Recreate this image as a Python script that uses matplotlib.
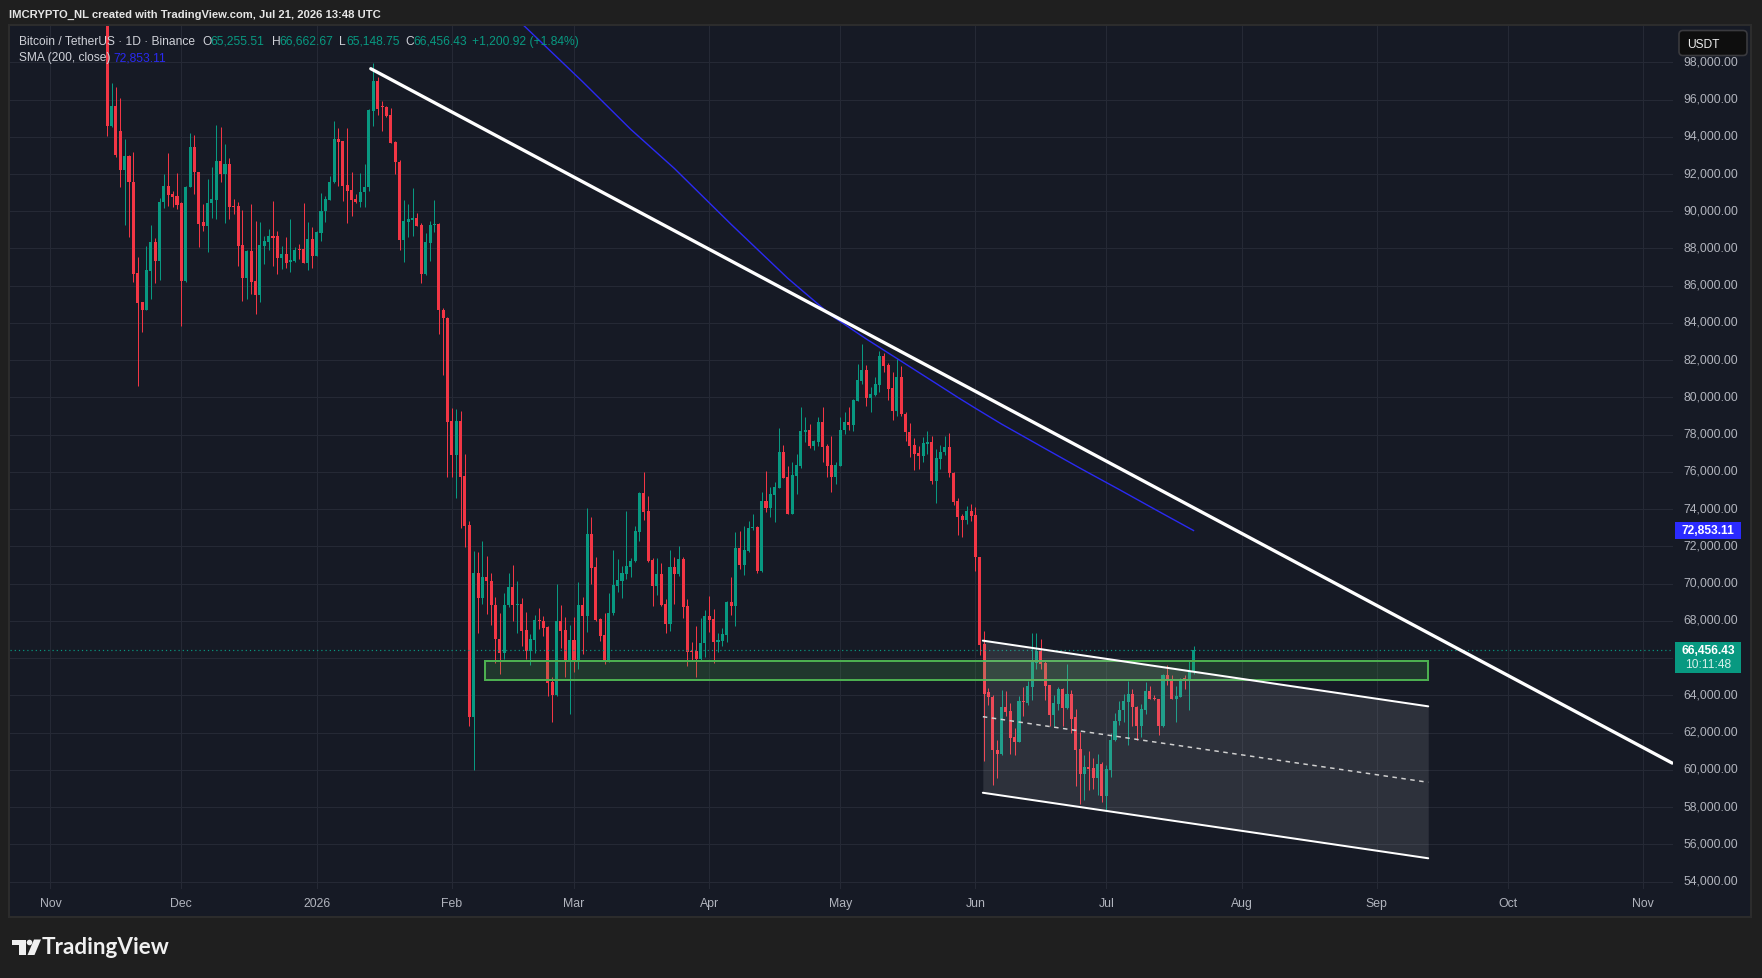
import numpy as np
import pandas as pd
import matplotlib
matplotlib.use("Agg")
import matplotlib.pyplot as plt
import matplotlib.dates as mdates
from matplotlib.patches import Rectangle, FancyBboxPatch, Polygon, Circle
from matplotlib.transforms import ScaledTranslation

# ---------------- data ----------------
start_date = "2025-11-14"
opens = [101200, 94600, 95670, 94310, 92230, 92990, 91550, 86680, 85140, 84720,
         86810, 88370, 87350, 90480, 91370, 90930, 90840, 90430, 86270, 91320,
         93470, 92090, 89400, 89230, 90440, 90620, 92700, 92020, 92540, 90300,
         90300, 88190, 86420, 87880, 86270, 85500, 88150, 88370, 88650, 88650,
         87470, 87700, 87260, 87350, 87970, 87970, 87220, 88510, 87620, 88830,
         90000, 90620, 91550, 93880, 93770, 91410, 91140, 90660, 90520, 91020,
         91290, 95400, 96980, 95680, 95600, 95180, 93730, 92630, 88430, 89430,
         89530, 89630, 89250, 86630, 88300, 89250, 89330, 84680, 84280, 78730,
         76900, 78730, 75770, 73150, 62850, 70570, 69250, 70350, 70150, 68850,
         67050, 66250, 68830, 69830, 68850, 68900, 67530, 66380, 66980, 68050,
         68000, 67650, 64730, 64030, 67980, 67510, 65830, 66970, 65780, 68850,
         68280, 72670, 70900, 68100, 67240, 65860, 68410, 69890, 70160, 70520,
         70900, 71200, 72790, 74870, 73900, 71270, 69890, 70520, 68910, 67830,
         70900, 70520, 71320, 68820, 66400, 66400, 65950, 66810, 68280, 68100,
         66890, 66940, 67240, 69000, 68820, 71920, 71020, 71770, 72970, 73040,
         70700, 74440, 74060, 74780, 75140, 77050, 75710, 73740, 75800, 76300,
         78160, 78270, 77380, 77590, 78680, 77410, 76370, 75750, 76340, 78250,
         78700, 78540, 79830, 80900, 81480, 79970, 80150, 80690, 82250, 81740,
         80490, 79290, 81080, 79110, 78130, 77450, 77020, 76840, 77500, 77590,
         75530, 76700, 77050, 77320, 75930, 74420, 73620, 73440, 73890, 73690,
         71410, 66760, 64180, 63910, 61080, 60850, 63370, 63140, 61760, 61490,
         63690, 63590, 64440, 65730, 66400, 65730, 64570, 62960, 63530, 64360,
         63320, 64070, 62820, 61120, 59790, 60150, 60090, 59560, 60330, 58610,
         60000, 61580, 62600, 63190, 63640, 64070, 63400, 62330, 63230, 64250,
         63850, 63800, 62330, 65110, 64840, 63820, 63930, 64930, 64750, 65255.51]
highs = [102000, 96870, 96650, 96060, 93880, 93020, 93160, 87530, 85150, 88150,
         89260, 88550, 90690, 92000, 93130, 91100, 92050, 90500, 91350, 94200,
         94110, 92100, 90390, 91730, 92360, 94630, 94530, 93610, 92840, 90660,
         90480, 90070, 87900, 90390, 89490, 89410, 88690, 89050, 90570, 88960,
         88150, 88600, 89580, 88060, 88240, 90440, 89410, 89170, 88950, 90980,
         90840, 91880, 94850, 94450, 93800, 94450, 92090, 90930, 92050, 92520,
         95500, 97940, 97200, 95930, 95680, 95550, 93750, 92730, 90600, 90400,
         91250, 89930, 89380, 88850, 89500, 90600, 89380, 84800, 84300, 79430,
         79380, 79250, 76980, 73350, 71750, 71700, 72300, 71480, 70550, 69300,
         68430, 69500, 70550, 71000, 70130, 69230, 68480, 67300, 68330, 68680,
         68280, 67700, 65000, 69980, 68850, 68190, 67780, 68190, 70070, 69270,
         74050, 73600, 71410, 68140, 68420, 69480, 71830, 71320, 70930, 73890,
         71360, 73120, 74940, 75980, 74730, 71380, 71360, 71110, 69180, 71830,
         71410, 72010, 71410, 69180, 66850, 67750, 68160, 68600, 69320, 68640,
         67350, 67600, 69090, 70380, 72790, 72850, 73120, 73380, 73740, 73120,
         74910, 76050, 75170, 75480, 78340, 77450, 76300, 76550, 76960, 79470,
         78930, 78560, 77720, 78930, 79470, 77500, 77910, 76550, 78930, 79200,
         79470, 79900, 81800, 82870, 81740, 80540, 81120, 82510, 82390, 81850,
         81350, 82070, 81670, 79200, 78630, 77810, 77380, 77890, 78180, 77950,
         77230, 77450, 77910, 78070, 75980, 74580, 73740, 74150, 74280, 74100,
         71450, 67480, 64400, 64030, 61620, 64300, 64250, 63590, 62240, 63940,
         64440, 64780, 67340, 67340, 67040, 65820, 64570, 64030, 64430, 64390,
         65680, 64300, 63280, 62030, 60810, 61030, 60630, 60850, 60400, 60270,
         61970, 63050, 63680, 64070, 64780, 64340, 63440, 63530, 64700, 64520,
         64000, 63800, 65140, 65610, 65070, 64480, 64930, 65070, 65820, 66662.67]
lows = [94060, 94550, 92900, 91290, 89280, 88640, 86180, 80630, 83530, 84700,
        85290, 86150, 86290, 90160, 90300, 90210, 90120, 83860, 86180, 91280,
        90930, 88100, 88960, 87790, 89620, 89580, 91590, 89350, 89580, 89850,
        87080, 85200, 85290, 85560, 84480, 85140, 87170, 87940, 87080, 86630,
        86900, 86940, 86720, 87290, 87440, 87220, 86860, 86940, 87600, 88420,
        89410, 90620, 91500, 91370, 90570, 89350, 89760, 90430, 90210, 90210,
        91110, 94600, 95170, 94300, 95050, 93650, 91980, 87930, 87300, 88600,
        88650, 89200, 86130, 86550, 87350, 88880, 83430, 81180, 75750, 75750,
        74600, 72970, 71950, 62380, 60000, 67330, 68930, 68350, 67800, 65750,
        65130, 65930, 68730, 68000, 67350, 66630, 65930, 65630, 66300, 67550,
        67180, 63980, 62550, 63980, 66530, 64970, 63000, 65240, 65420, 66220,
        67420, 69980, 68000, 66940, 65690, 65800, 68300, 69540, 69230, 70250,
        70340, 71150, 72310, 73440, 71150, 68820, 69390, 68820, 67350, 67480,
        68910, 70430, 68170, 65560, 65830, 65010, 65870, 66040, 67390, 65720,
        66310, 66630, 66890, 68330, 67750, 70790, 70480, 71700, 72900, 70560,
        70650, 73830, 73560, 73330, 75120, 75650, 73720, 73720, 74820, 76210,
        77590, 77270, 77200, 77380, 76520, 75710, 74940, 75350, 76300, 78040,
        78250, 78220, 79800, 80720, 79560, 79240, 80100, 80310, 81350, 79860,
        78810, 78990, 78990, 77680, 76790, 76120, 76160, 76550, 76960, 75350,
        74310, 76160, 76930, 75710, 74230, 72610, 72530, 73200, 73380, 70700,
        66170, 60500, 63500, 59200, 59560, 60810, 62900, 60850, 60810, 61490,
        62870, 63500, 63760, 65430, 65430, 63760, 62330, 62330, 63230, 62330,
        63280, 61970, 59110, 58180, 58390, 58930, 58980, 58660, 58250, 57820,
        59610, 61530, 62420, 62570, 61350, 62330, 61620, 61760, 63010, 63820,
        63760, 61880, 62300, 64570, 63820, 62570, 63900, 64360, 63190, 65148.75]
closes = [94600, 95670, 93040, 92230, 92990, 91550, 86630, 85070, 84720, 86860,
          88330, 87350, 90480, 91370, 90870, 90780, 90350, 86270, 91320, 93470,
          92090, 89320, 89230, 90440, 90660, 92700, 92020, 92540, 90250, 90250,
          88150, 86420, 87880, 86220, 85500, 88190, 88420, 88690, 88600, 87470,
          87700, 87220, 87400, 87940, 87940, 87220, 88510, 87620, 88900, 90000,
          90660, 91550, 93880, 93740, 91370, 91110, 90600, 90520, 91020, 91290,
          95440, 96980, 95500, 95580, 95130, 93680, 92630, 88430, 89480, 89580,
          89630, 89230, 86630, 88350, 89250, 89330, 84680, 84250, 78680, 76900,
          78730, 75750, 73100, 62850, 70570, 69250, 70350, 70150, 68830, 67050,
          66250, 68850, 69830, 68830, 68930, 67480, 66380, 67030, 68050, 67980,
          67630, 64680, 64030, 68000, 67480, 65830, 66970, 65780, 68850, 68280,
          72670, 70840, 68050, 67210, 65860, 68410, 69930, 70200, 70570, 70930,
          71200, 72850, 74870, 73870, 71240, 69890, 70520, 68870, 67830, 70900,
          70520, 71320, 68760, 66350, 66350, 65950, 66810, 68280, 68050, 66890,
          66970, 67300, 69000, 68820, 71920, 71020, 71830, 72970, 73040, 70700,
          74440, 74060, 74830, 75170, 77050, 75680, 73740, 75840, 76390, 78180,
          78270, 77380, 77640, 78680, 77360, 76340, 75750, 76370, 78250, 78700,
          78540, 79880, 80940, 81480, 79970, 80190, 80720, 82250, 81710, 80460,
          79290, 81080, 79110, 78130, 77410, 76960, 76840, 77550, 77590, 75530,
          76750, 77050, 77320, 75930, 74400, 73600, 73440, 73890, 73650, 71410,
          66720, 64080, 63890, 61080, 60850, 63370, 63100, 61710, 61490, 63680,
          63660, 64480, 65820, 66400, 65680, 64500, 62960, 63590, 64360, 63320,
          64070, 62740, 61080, 59790, 60150, 60060, 59560, 60330, 58610, 60040,
          61580, 62600, 63190, 63680, 64070, 63400, 62330, 63260, 64210, 63820,
          63820, 62370, 65110, 64780, 63820, 63980, 64890, 64750, 65290, 66456.43]

# 200-day SMA
sma_dates = ["2026-02-14", "2026-02-18", "2026-03-03", "2026-03-14", "2026-03-24",
             "2026-04-06", "2026-04-19", "2026-04-29", "2026-05-07", "2026-05-22",
             "2026-05-28", "2026-06-01", "2026-06-07", "2026-06-17", "2026-06-25",
             "2026-07-04", "2026-07-13", "2026-07-21"]
sma_values = [100750, 99860, 96950, 94400, 92300, 89300, 86400, 84400, 83140, 80900,
              80000, 79420, 78570, 77250, 76200, 75050, 73880, 72853.11]

# drawings (anchor date, price)
trend_dates = ["2026-01-13 10:00", "2026-11-07 17:00"]
trend_prices = [97656, 60363]
zone_dates = ["2026-02-08 17:00", "2026-09-12 19:00"]
zone_prices = [64800, 65850]
channel_dates = ["2026-06-02 17:00", "2026-09-12 19:00"]
channel_upper = [66940, 63410]
channel_lower = [58770, 55250]

month_ticks = ["2025-11-01", "2025-12-01", "2026-01-01", "2026-02-01", "2026-03-01",
               "2026-04-01", "2026-05-01", "2026-06-01", "2026-07-01", "2026-08-01",
               "2026-09-01", "2026-10-01", "2026-11-01"]
month_labels = ["Nov", "Dec", "2026", "Feb", "Mar", "Apr", "May", "Jun", "Jul",
                "Aug", "Sep", "Oct", "Nov"]
price_ticks = list(range(54000, 100000, 2000))
hidden_tick = 66000          # covered by the last-price label in the reference
last_price = 66456.43
sma_last = 72853.11

# ---------------- style ----------------
W, H = 1762, 979
OUTER = "#1f1f1f"
PANE = "#161a25"
GRID = "#252935"
UP = "#089981"
DOWN = "#f23645"
AXTXT = "#b2b5be"
LEG = "#cfd1d8"
BLUE = "#2a2af2"
FONT = "Liberation Sans"
PX = 0.72  # points per pixel at dpi 100

plt.rcParams["font.family"] = [FONT, "DejaVu Sans"]

fig = plt.figure(figsize=(W / 100, H / 100), dpi=100, facecolor=OUTER)


def frac(x0, y0, x1, y1):
    return [x0 / W, 1 - y1 / H, (x1 - x0) / W, (y1 - y0) / H]


bg = fig.add_axes(frac(0, 0, W, H), zorder=0)
bg.set_xlim(0, W)
bg.set_ylim(H, 0)
bg.axis("off")
bg.add_patch(Rectangle((9, 26), 1742, 892, facecolor=PANE, edgecolor="#2c2c2c", lw=1.5))

ax = fig.add_axes(frac(10, 27, 1673, 890), zorder=2)
ax.set_facecolor(PANE)
for s in ax.spines.values():
    s.set_visible(False)

base = mdates.date2num(pd.Timestamp("2025-11-01"))
ax.set_xlim(base - 9.28, base + 371.9)
ax.set_ylim(53600, 99950)

ax.set_yticks(price_ticks)
ax.set_yticklabels(["" if v == hidden_tick else f"{v:,.2f}" for v in price_ticks])
ax.yaxis.tick_right()
ax.tick_params(axis="y", length=0, pad=10 * PX, labelsize=12.3 * PX, labelcolor=AXTXT)
lift = ScaledTranslation(0, 2.5 / 100, fig.dpi_scale_trans)
for lab in ax.get_yticklabels():
    lab.set_transform(lab.get_transform() + lift)
ax.set_xticks(mdates.date2num(pd.to_datetime(month_ticks)))
ax.set_xticklabels(month_labels)
ax.tick_params(axis="x", length=0, pad=8 * PX, labelsize=12.3 * PX, labelcolor=AXTXT)
ax.grid(True, color=GRID, lw=1 * PX, zorder=0)
ax.set_axisbelow(True)

# candles
dates = pd.date_range(start_date, periods=len(opens), freq="D")
x = mdates.date2num(dates)
o = np.array(opens, float)
h = np.array(highs, float)
l = np.array(lows, float)
c = np.array(closes, float)
col = np.where(c >= o, UP, DOWN)
ax.vlines(x, l, h, colors=col, lw=1.0 * PX, zorder=3)
diff = c - o
body = np.where(np.abs(diff) < 60, np.where(diff >= 0, 60, -60), diff)
ax.bar(x, body, bottom=o, width=0.7, color=col, lw=0, zorder=4)

# SMA
ax.plot(mdates.date2num(pd.to_datetime(sma_dates)), sma_values, color=BLUE, lw=1.4 * PX, zorder=5)

# current price dotted line
ax.axhline(last_price, color=UP, lw=1.2 * PX, ls=(0, (1, 2.5)), zorder=5)

# zone rectangle
zx = mdates.date2num(pd.to_datetime(zone_dates))
ax.add_patch(Rectangle((zx[0], zone_prices[0]), zx[1] - zx[0], zone_prices[1] - zone_prices[0],
                       facecolor=(0.298, 0.686, 0.314, 0.2), edgecolor="#4caf50", lw=2 * PX, zorder=6))

# channel
cx = mdates.date2num(pd.to_datetime(channel_dates))
ax.fill_between(cx, channel_lower, channel_upper, color=(0.80, 0.80, 0.84, 0.13), lw=0, zorder=6)
ax.plot(cx, channel_upper, color="white", lw=2 * PX, zorder=7, solid_capstyle="round")
ax.plot(cx, channel_lower, color="white", lw=2 * PX, zorder=7, solid_capstyle="round")
mid = [(a + b) / 2 for a, b in zip(channel_upper, channel_lower)]
ax.plot(cx, mid, color="#d0d0d0", lw=1.5 * PX, ls=(0, (3, 3)), zorder=7)

# big trend line
tx = mdates.date2num(pd.to_datetime(trend_dates))
ax.plot(tx, trend_prices, color="white", lw=3.3 * PX, zorder=8, solid_capstyle="round")

# ---------------- overlay (texts, labels) ----------------
ov = fig.add_axes(frac(0, 0, W, H), zorder=10)
ov.set_xlim(0, W)
ov.set_ylim(H, 0)
ov.axis("off")
ov.patch.set_alpha(0)

fs = 12 * PX
ov.text(9, 14.5, "IMCRYPTO_NL created with TradingView.com, Jul 21, 2026 13:48 UTC",
        color="#e6e6e6", fontsize=11.2 * PX, fontweight="bold", va="center", ha="left")

row1 = [(18.6, "Bitcoin / TetherUS · 1D · Binance", LEG), (202.8, "O", LEG),
        (210.8, "65,255.51", UP), (272, "H", LEG), (279.5, "66,662.67", UP),
        (339.5, "L", LEG), (346.5, "65,148.75", UP), (405.5, "C", LEG),
        (413.5, "66,456.43", UP), (472.5, "+1,200.92 (+1.84%)", UP)]
for xx, t, cc in row1:
    ov.text(xx, 41.6, t, color=cc, fontsize=fs, va="center", ha="left")
ov.text(18.6, 58.4, "SMA (200, close)", color=LEG, fontsize=fs, va="center", ha="left")
ov.text(113.5, 58.4, f"{sma_last:,.2f}", color=BLUE, fontsize=fs, va="center", ha="left")

# USDT box
ov.add_patch(FancyBboxPatch((1679, 31.5), 68, 25, boxstyle="round,pad=0,rounding_size=4",
                            facecolor="#0e0e0e", edgecolor="#3a3a3e", lw=1.2))
ov.text(1687, 44.5, "USDT", color="#ececec", fontsize=fs, va="center", ha="left")

# SMA price label
ov.add_patch(Rectangle((1675, 523), 66, 17, facecolor="#2b2bff", lw=0))
ov.text(1708, 531.5, f"{sma_last:,.2f}", color="white", fontsize=fs, fontweight="bold",
        va="center", ha="center")
# last price label
ov.add_patch(Rectangle((1675, 643), 66, 31, facecolor=UP, lw=0))
ov.text(1708, 651, f"{last_price:,.2f}", color="white", fontsize=fs, fontweight="bold",
        va="center", ha="center")
ov.text(1708, 665, "10:11:48", color="#d6efe9", fontsize=fs, va="center", ha="center")

# TradingView logo
ov.add_patch(Polygon([(11.5, 940.5), (25.5, 940.5), (25.5, 956), (19, 956), (19, 946), (11.5, 946)],
                     closed=True, facecolor="#f0f0f0", lw=0))
ov.add_patch(Circle((29.5, 943.5), 2.8, facecolor="#f0f0f0", lw=0))
ov.add_patch(Polygon([(34, 940.5), (41, 940.5), (34.5, 956), (27.5, 956)], closed=True,
                     facecolor="#f0f0f0", lw=0))
ov.text(42, 948, "TradingView", color="#f0f0f0", fontsize=22.5 * PX, fontweight="bold",
        va="center", ha="left", family=["Lato", "DejaVu Sans"])

fig.savefig("out.png", dpi=100, facecolor=OUTER)
